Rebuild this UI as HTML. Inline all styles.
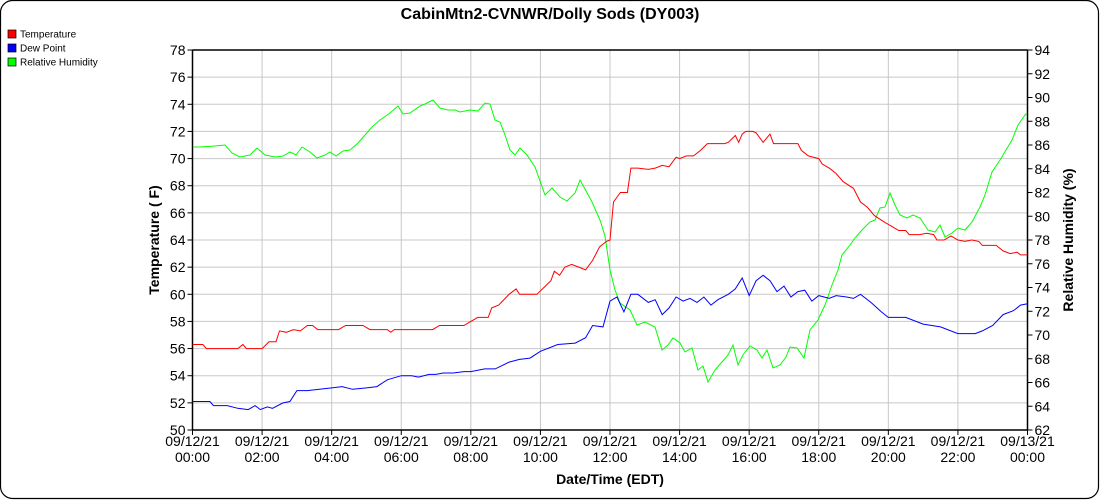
<!DOCTYPE html>
<html><head><style>
body{margin:0;background:#fff;}
svg{display:block;font-family:"Liberation Sans",Arial,sans-serif;}
</style></head><body>
<svg id="s" width="1100" height="500" xmlns="http://www.w3.org/2000/svg">
<rect x="0.5" y="0.5" width="1098" height="498" rx="12" fill="#fff" stroke="#000" stroke-width="1.2"/>
<text x="550" y="19" font-size="16" font-weight="bold" text-anchor="middle">CabinMtn2-CVNWR/Dolly Sods (DY003)</text>
<rect x="8" y="30" width="8" height="8" fill="#f00" stroke="#000" stroke-width="0.7"/>
<text x="20" y="37.5" font-size="10">Temperature</text>
<rect x="8" y="44" width="8" height="8" fill="#00f" stroke="#000" stroke-width="0.7"/>
<text x="20" y="51.5" font-size="10">Dew Point</text>
<rect x="8" y="58" width="8" height="8" fill="#0f0" stroke="#000" stroke-width="0.7"/>
<text x="20" y="65.5" font-size="10">Relative Humidity</text>
<g id="grid"></g>
<text transform="translate(159,240) rotate(-90)" font-size="14" font-weight="bold" text-anchor="middle">Temperature ( F)</text>
<text transform="translate(1073,240) rotate(-90)" font-size="14" font-weight="bold" text-anchor="middle">Relative Humidity (%)</text>
<text x="610" y="484" font-size="14" font-weight="bold" text-anchor="middle">Date/Time (EDT)</text>
</svg>
<script>
var NS="http://www.w3.org/2000/svg",g=document.getElementById("grid");
function el(n,a,t){var e=document.createElementNS(NS,n);for(var k in a)e.setAttribute(k,a[k]);if(t!=null)e.textContent=t;g.appendChild(e);return e;}
var L=192.5,R=1027.5,T=50,B=430;
function X(h){return L+(R-L)*h/24;}
function YT(v){return B-(v-50)*(B-T)/28;}
function YR(v){return B-(v-62)*(B-T)/32;}
for(var i=0;i<=12;i++){var x=X(i*2);
 if(i>0&&i<12)el("line",{x1:x,y1:T,x2:x,y2:B,stroke:"#c8c8c8"});
 el("line",{x1:x,y1:B,x2:x,y2:B+5,stroke:"#000"});
 var hh=(i*2)%24,d=i==12?"09/13/21":"09/12/21";
 el("text",{x:x,y:446,"font-size":14,"text-anchor":"middle"},d);
 el("text",{x:x,y:462,"font-size":14,"text-anchor":"middle"},(hh<10?"0":"")+hh+":00");}
for(var v=50;v<=78;v+=2){var y=YT(v);
 if(v>50&&v<78)el("line",{x1:L,y1:y,x2:R,y2:y,stroke:"#c8c8c8"});
 el("line",{x1:L-5,y1:y,x2:L,y2:y,stroke:"#000"});
 el("text",{x:L-7,y:y+5,"font-size":14,"text-anchor":"end"},v);}
for(var v=62;v<=94;v+=2){var y=YR(v);
 el("line",{x1:R,y1:y,x2:R+5,y2:y,stroke:"#000"});
 el("text",{x:R+7,y:y+5,"font-size":14},v);}
el("line",{x1:L,y1:T,x2:R,y2:T,stroke:"#000","stroke-width":1.5});
el("line",{x1:L,y1:T,x2:L,y2:B,stroke:"#000","stroke-width":1.5});
el("line",{x1:R,y1:T,x2:R,y2:B,stroke:"#000","stroke-width":1.5});
el("line",{x1:L,y1:B,x2:R,y2:B,stroke:"#000","stroke-width":1.5});
var t=[0,56.3,.3,56.3,.4,56,1.3,56,1.45,56.3,1.55,56,2,56,2.2,56.5,2.4,56.5,2.5,57.3,2.7,57.2,2.9,57.4,3.1,57.3,3.3,57.7,3.45,57.7,3.6,57.4,4.2,57.4,4.4,57.7,4.9,57.7,5.1,57.4,5.6,57.4,5.7,57.2,5.8,57.4,6.9,57.4,7.1,57.7,7.8,57.7,8,58,8.2,58.3,8.5,58.3,8.6,59,8.8,59.2,9.1,60,9.3,60.4,9.4,60,9.9,60,10.1,60.5,10.3,61,10.4,61.7,10.55,61.4,10.7,62,10.9,62.2,11.1,62,11.3,61.8,11.5,62.5,11.7,63.5,11.9,63.9,12,64,12.1,66.8,12.3,67.5,12.5,67.5,12.6,69.3,12.8,69.3,13.1,69.2,13.3,69.3,13.5,69.5,13.7,69.4,13.9,70.1,14,70,14.2,70.2,14.4,70.2,14.6,70.6,14.8,71.1,15.3,71.1,15.4,71.2,15.6,71.7,15.7,71.2,15.8,71.8,15.9,72,16.1,72,16.2,71.9,16.4,71.2,16.6,71.8,16.7,71.1,17.4,71.1,17.5,70.6,17.7,70.2,18,70,18.1,69.6,18.3,69.3,18.5,68.9,18.7,68.3,19,67.8,19.2,66.8,19.4,66.4,19.6,65.8,19.9,65.3,20.1,65,20.3,64.7,20.5,64.7,20.6,64.4,20.9,64.4,21.1,64.5,21.3,64.4,21.4,64,21.6,64,21.8,64.3,22,64,22.2,63.9,22.4,64,22.6,63.9,22.7,63.6,23.1,63.6,23.3,63.2,23.5,63,23.7,63.1,23.8,62.9,24,62.9];
var d=[0,52.1,.5,52.1,.6,51.8,1,51.8,1.3,51.6,1.6,51.5,1.8,51.8,1.95,51.5,2.15,51.7,2.3,51.6,2.6,52,2.8,52.1,3,52.9,3.3,52.9,4,53.1,4.3,53.2,4.6,53,5,53.1,5.3,53.2,5.6,53.7,6,54,6.3,54,6.5,53.9,6.8,54.1,7,54.1,7.2,54.2,7.5,54.2,7.8,54.3,8,54.3,8.4,54.5,8.7,54.5,9.1,55,9.4,55.2,9.7,55.3,10,55.8,10.5,56.3,11,56.4,11.3,56.8,11.5,57.7,11.8,57.6,12,59.5,12.2,59.8,12.4,58.7,12.6,60,12.8,60,13.1,59.4,13.3,59.6,13.5,58.5,13.7,59,13.9,59.8,14.1,59.5,14.3,59.7,14.5,59.4,14.7,59.8,14.9,59.2,15.1,59.6,15.4,60,15.6,60.4,15.8,61.2,16,59.9,16.2,61,16.4,61.4,16.6,61,16.8,60.2,17,60.6,17.2,59.8,17.4,60.2,17.6,60.3,17.8,59.5,18,59.9,18.3,59.7,18.5,59.9,18.8,59.8,19,59.7,19.2,60,19.5,59.4,19.8,58.7,20,58.3,20.5,58.3,21,57.8,21.5,57.6,22,57.1,22.5,57.1,22.7,57.3,23,57.7,23.3,58.5,23.6,58.8,23.8,59.2,24,59.3];
var h=[193,147,200,147,215,146,225,145,232,153,240,157,250,155,257,148,265,155,275,157,283,156,290,152,296,155,302,147,310,152,317,158,325,155,330,152,336,156,343,151,350,150,358,143,365,135,372,127,380,120,390,113,398,106,403,114,410,113,420,106,425,104,433,100,440,108,448,110,455,110,460,112,470,110,478,111,485,103,490,104,495,120,500,122,505,135,510,150,515,155,520,148,527,155,535,167,545,195,552,188,560,197,567,201,575,193,580,180,585,189,592,202,600,220,605,236,610,270,615,290,620,303,630,310,637,325,645,322,655,327,662,350,668,345,673,338,680,343,685,352,692,348,698,370,703,366,708,382,715,370,722,362,728,355,733,345,738,365,743,355,750,346,757,350,762,358,767,350,773,368,780,365,786,357,790,347,797,348,804,358,810,330,818,320,825,305,832,285,838,270,842,255,850,245,855,238,862,230,870,222,875,220,880,208,885,207,890,193,895,205,900,215,907,218,913,215,920,218,928,230,935,232,940,225,945,237,952,233,958,228,965,230,972,222,980,207,985,195,992,172,1000,160,1006,150,1012,140,1018,125,1025,115,1027,113];
function pl(a,f,c){var p=[];for(var i=0;i<a.length;i+=2)p.push(f?X(a[i]).toFixed(1)+","+f(a[i+1]).toFixed(1):a[i]+","+a[i+1]);el("polyline",{points:p.join(" "),fill:"none",stroke:c,"stroke-width":1});}
pl(h,null,"#00ff00");pl(d,YT,"#0000ff");pl(t,YT,"#ff0000");
</script>
</body></html>
